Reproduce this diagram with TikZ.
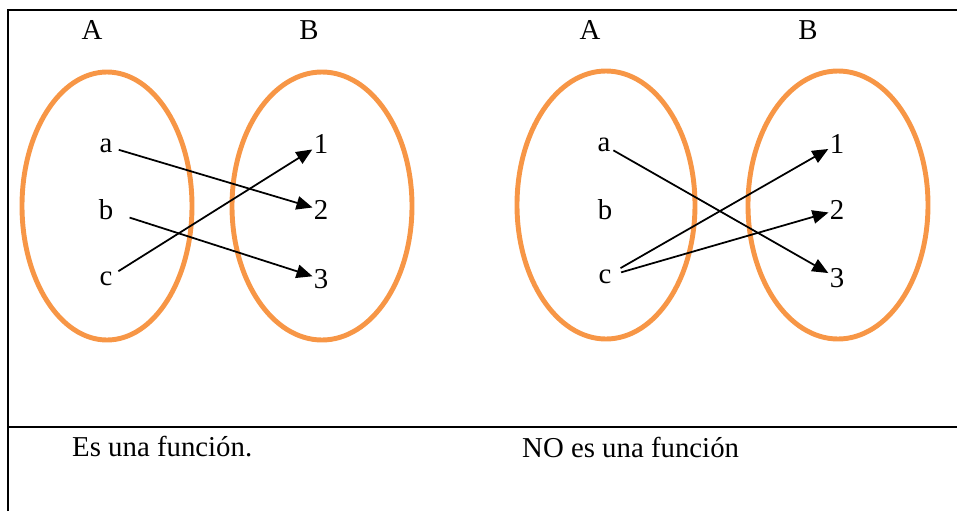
\documentclass[tikz,border=0pt]{standalone}
\usepackage{fontspec}
\setmainfont{Liberation Serif}
\usetikzlibrary{arrows.meta}
\definecolor{setOrange}{HTML}{F79646}
\definecolor{mapInk}{HTML}{000000}
\tikzset{
  every picture/.style={font=\fontsize{16.4}{20}\selectfont, text=mapInk},
  set oval/.style={draw=setOrange, line width=2.8pt},
  table rule/.style={draw=mapInk, line width=0.6pt},
  elem/.style={inner sep=1.5pt},
  map arrow/.style={-{Triangle[length=3.2mm,width=2.7mm]},
    draw=mapInk, line width=1pt, shorten <=2pt, shorten >=-1pt}
}

\begin{document}
\begin{tikzpicture}[x=0.02cm,y=-0.02cm]
  \useasboundingbox (0,0) rectangle (957,511);
  % table lines
  \draw[table rule] (8,511) -- (8,10) -- (957,10);
  \draw[table rule] (8,427) -- (957,427);

  % es una funcion
  \draw[set oval] (107,206) ellipse[x radius=85,y radius=134];
  \draw[set oval] (322,206) ellipse[x radius=90,y radius=134];
  \node (lA) at (92,30) {A};
  \node (lB) at (309,30) {B};
  \node[elem] (la) at (106,146) {a};
  \node[elem] (lb) at (106,210) {b};
  \node[elem] (lc) at (106,279) {c};
  \node[elem] (l1) at (321,144) {1};
  \node[elem] (l2) at (321,210) {2};
  \node[elem] (l3) at (321,279) {3};
  \draw[map arrow] (la) -- (l2);
  \draw[map arrow,shorten <=8pt] (lb) -- (l3);
  \draw[map arrow] (lc) -- (l1);
  \node[anchor=west] (lyes) at (66,447) {Es una función.};

  % no es una funcion
  \draw[set oval] (606,205) ellipse[x radius=89,y radius=134];
  \draw[set oval] (838,205) ellipse[x radius=90,y radius=134];
  \node (rA) at (590,30) {A};
  \node (rB) at (808,30) {B};
  \node[elem] (ra) at (604,145) {a};
  \node[elem] (rb) at (605,210) {b};
  \node[elem] (rc) at (605,277) {c};
  \node[elem] (r1) at (837,144) {1};
  \node[elem] (r2) at (837,210) {2};
  \node[elem] (r3) at (837,278) {3};
  \draw[map arrow,shorten <=0pt] (ra) -- (r3);
  \draw[map arrow,shorten <=4pt] (rc) -- (r1);
  \draw[map arrow,shorten <=4pt] (rc) -- (r2);
  \node[anchor=west] (rno) at (516,447) {NO es una función};
\end{tikzpicture}
\end{document}
